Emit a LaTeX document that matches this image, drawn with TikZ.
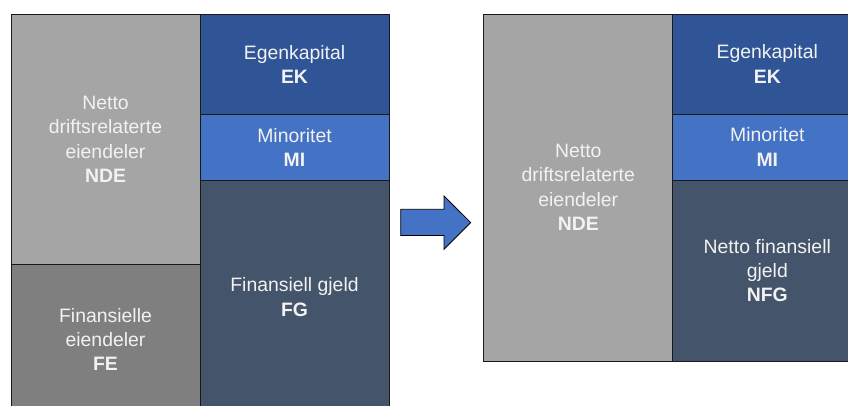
\documentclass[tikz,border=0pt]{standalone}
\usepackage{fontspec}
\setmainfont{Liberation Sans}
\definecolor{ndegray}{HTML}{A5A5A5}
\definecolor{fegray}{HTML}{7F7F7F}
\definecolor{ekblue}{HTML}{2F5597}
\definecolor{miblue}{HTML}{4472C4}
\definecolor{fgslate}{HTML}{44546A}
\definecolor{labelwhite}{HTML}{F2F2F2}
\begin{document}
\begin{tikzpicture}[x=1pt,y=-1pt,
  blk/.style={draw=black!90, line width=1pt, anchor=north west, inner sep=0pt,
    minimum width=189pt, text=labelwhite, align=center,
    font=\fontsize{19.4}{24.4}\selectfont},
  arrowshape/.style={fill=miblue, draw=black, line width=0.8pt, line join=miter}]
\useasboundingbox (0,0) rectangle (848,405);
\clip (0,0) rectangle (848,405);

% balance before: assets on the left, financing on the right
\node[blk, fill=ndegray, minimum height=250.5pt] (nde1) at (10.5,13.5)
  {Netto\\driftsrelaterte\\eiendeler\\\textbf{NDE}};
\node[blk, fill=fegray, minimum height=150pt] (fe1) at (10.5,264)
  {Finansielle\\eiendeler\\\textbf{FE}};
\node[blk, fill=ekblue, minimum height=100.5pt] (ek1) at (199.5,13.5)
  {Egenkapital\\\textbf{EK}};
\node[blk, fill=miblue, minimum height=65.5pt] (mi1) at (199.5,114)
  {Minoritet\\\textbf{MI}};
\node[blk, fill=fgslate, minimum height=234.5pt] (fg1) at (199.5,179.5)
  {Finansiell gjeld\\\textbf{FG}};

% block arrow between the two balances
\path[arrowshape] (400.7,209.3) -- (444,209.3) -- (444,196) -- (470.7,222.6)
  -- (444,249.3) -- (444,235.5) -- (400.7,235.5) -- cycle;

% balance after netting financial assets against debt
\node[blk, fill=ndegray, minimum height=347pt] (nde2) at (483.3,13.5)
  {Netto\\driftsrelaterte\\eiendeler\\\textbf{NDE}};
\node[blk, fill=ekblue, minimum height=100pt] (ek2) at (672.3,13.5)
  {Egenkapital\\\textbf{EK}};
\node[blk, fill=miblue, minimum height=66pt] (mi2) at (672.3,113.5)
  {Minoritet\\\textbf{MI}};
\node[blk, fill=fgslate, minimum height=181pt] (nfg2) at (672.3,179.5)
  {Netto finansiell\\gjeld\\\textbf{NFG}};
\end{tikzpicture}
\end{document}
